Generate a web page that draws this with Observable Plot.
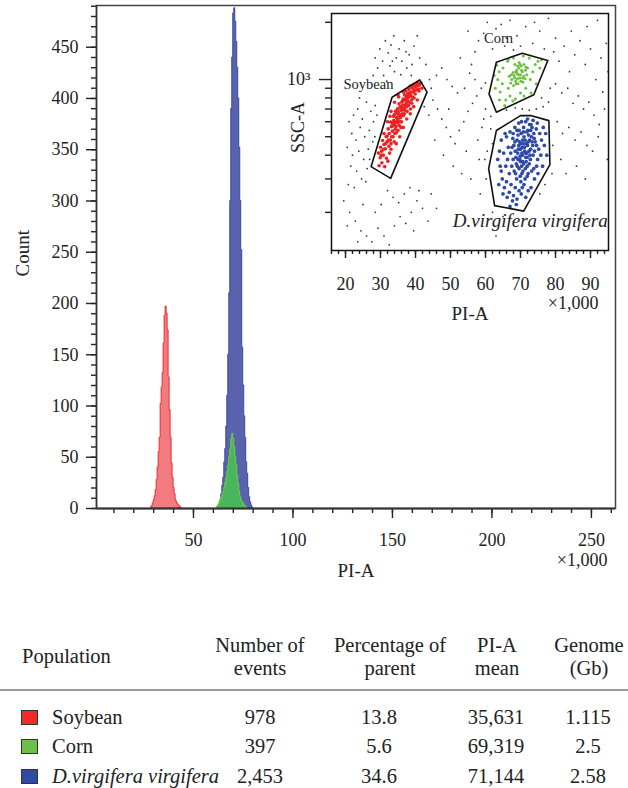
<!DOCTYPE html>
<html>
<head>
<meta charset="utf-8">
<script src="https://cdn.jsdelivr.net/npm/d3@7"></script>
<script src="https://cdn.jsdelivr.net/npm/@observablehq/plot@0.6"></script>
<style>
  html, body { margin: 0; padding: 0; background: #fff; }
  #wrap { position: relative; width: 628px; height: 788px; font-family: "Liberation Serif", "DejaVu Serif", serif; color: #222; }
  #main { position: absolute; left: 0; top: 0; }
  #inset { position: absolute; left: 280px; top: 5px; }
  .cell { position: absolute; white-space: nowrap; font-size: 20.5px; line-height: 23px; }
  .c { transform: translateX(-50%); text-align: center; }
</style>
</head>
<body>
<div id="wrap">
  <div id="main"></div>
  <div id="inset"></div>
  <div id="table"></div>
</div>
<script>
// ---------- Histogram data (PI-A in thousands, bin width 0.5k) ----------
const binWidth = 0.5;
const soybeanStart = 29.0;
const soybeanCounts = [2,5,8,12,18,28,40,55,69,102,118,132,161,188,197,190,174,128,96,69,44,30,20,14,8,6,4,3,2,1];
const cornStart = 62.0;
const cornCounts = [2,4,6,8,10,13,16,20,25,30,36,42,50,58,68,73,68,60,50,42,32,24,17,11,8,6,5,3,2,1];
const dvvStart = 63.0;
const dvvCounts = [3,8,14,22,30,45,58,80,110,150,210,300,390,440,483,488,475,455,430,400,352,300,252,157,120,90,69,45,34,20,11,6,3,1];

// ---------- Inset scatter data: [PI-A (thousands), SSC-A] ----------
const grayPoints = [
 [28.5,1300],[29.8,1450],[30.6,1250],[31.4,1600],[32.2,1380],[33.0,1520],[33.8,1700],[34.5,1300],[35.3,1450],[36.1,1250],[36.8,1600],[37.5,1150],[38.2,1350],[39.0,1200],[29.2,1150],[30.9,1050],[32.7,1180],[34.0,1100],[35.8,1060],[37.3,1400],[38.8,1050],[31.8,980],[27.9,1050],[39.6,1500],[33.4,1250],[40.5,1700],[41.2,1300],
 [21.0,600],[22.3,650],[23.5,700],[24.8,620],[26.0,760],[27.2,680],[28.5,730],[21.8,520],[23.0,480],[24.2,560],[25.5,500],[26.8,540],[28.0,600],[29.0,650],[20.5,440],[22.0,400],[23.8,420],[25.2,380],[26.5,430],[27.8,470],[21.5,350],[23.2,330],[24.6,300],[26.2,340],[26.9,380],[20.8,280],[22.5,270],[25.8,290],[28.4,500],[24.0,800],
 [19.5,230],[21.2,200],[22.8,180],[24.4,160],[26.0,150],[27.5,140],[29.3,165],[31.0,150],[32.5,135],[34.0,170],[35.6,190],[37.2,175],[38.8,200],[40.4,230],[42.0,210],[43.6,180],[30.2,220],[32.0,260],[33.6,240],[35.2,225],[36.8,250],[38.4,270],[41.0,260],[44.5,250],[20.5,170],[23.5,140],[28.5,200],[46.0,210],[39.5,160],[25.0,220],
 [42.5,720],[43.8,650],[45.0,780],[46.3,700],[47.5,620],[48.8,560],[50.0,500],[51.3,460],[52.5,540],[53.8,600],[55.0,680],[56.3,750],[57.5,820],[58.8,900],[60.0,960],[57.0,1000],[55.5,1080],[54.0,900],[52.0,850],[50.5,920],[49.0,1000],[47.5,1150],[46.0,1050],[44.5,900],[43.0,1200],[48.0,400],[50.8,350],[53.2,320],[55.8,300],[58.2,380],[60.5,420],[45.5,480],[52.8,1300],[56.0,1200],[59.0,560],[61.5,640],[44.0,1000],[49.5,700],[54.5,420],[57.8,480],
 [55.0,1800],[58.0,1600],[60.5,2000],[63.0,1850],[65.5,1500],[67.0,2050],[69.0,1700],[71.5,1900],[73.5,1550],[75.5,1800],[78.0,2100],[66.0,1650],[62.0,1450],[57.0,1400],[80.0,1650],[76.8,1450],[70.0,1500],[64.5,1950],[68.0,1430],[74.0,2000],[59.5,1750],
 [79.5,1400],[81.0,1250],[82.5,1500],[84.0,1100],[85.5,1350],[87.0,1600],[88.5,1200],[90.0,1450],[91.5,1000],[93.0,1300],[94.5,1550],[80.0,950],[81.8,850],[83.5,900],[85.0,750],[86.5,820],[88.0,700],[89.5,760],[91.0,650],[92.5,580],[94.0,700],[80.5,600],[82.0,520],[83.8,560],[85.6,480],[87.3,530],[89.0,450],[90.6,420],[92.2,500],[94.8,380],[81.5,380],[83.0,320],[86.0,350],[88.5,300],[79.2,450],[93.5,860],[95.0,1100],[84.5,1800],[89.0,1900],[92.0,2050],
 [66.0,690],[68.5,710],[70.5,700],[72.5,690],[74.5,700],[76.5,720],[78.0,760],[60.0,700],[61.5,550],[62.0,460],[59.8,380],[60.2,300],[62.0,200],[65.0,190],[68.0,180],[58.5,250],[75.5,250],[77.0,280],[79.0,320],[63.0,150],[59.5,620],[76.0,800],[78.5,900]
];
const soybeanPoints = [
 [29.6,352],[30.4,365],[31.2,348],[32.1,372],[29.9,388],[30.8,400],[31.7,385],[32.6,410],[30.3,420],[31.4,432],[32.4,445],[29.4,410],[33.0,430],[31.0,455],[31.9,470],[30.6,478],
 [32.8,480],[33.6,500],[31.9,505],[32.5,520],[33.4,535],[34.2,548],[32.2,550],[33.1,565],[34.0,580],[34.8,595],[32.9,598],[33.8,610],[35.3,575],[34.5,525],[33.0,460],[35.0,620],
 [34.6,630],[35.4,645],[36.2,660],[34.0,655],[35.1,672],[35.9,690],[36.8,705],[34.8,700],[35.6,718],[36.4,735],[37.3,748],[35.3,745],[36.1,762],[37.0,778],[37.8,770],[34.3,680],[36.9,690],[37.5,720],[33.7,640],[35.8,650],[36.6,700],[38.2,760],
 [36.5,790],[37.4,805],[38.3,820],[39.1,810],[36.9,830],[37.8,845],[38.7,860],[39.6,872],[37.2,870],[38.1,888],[39.0,905],[40.0,918],[38.5,925],[39.4,940],[40.3,955],[41.1,935],[40.8,890],[39.9,840],[41.5,960],[37.6,815],[38.9,780],[40.6,965],
 [30.0,440],[31.6,500],[33.9,470],[36.0,600],[38.6,700],[41.8,900],[35.2,810],[32.7,640],
 [34.0,600],[34.9,610],[35.7,630],[36.5,645],[33.5,570],[34.4,565],[35.6,600],[36.8,660],[37.6,680],[38.0,730],[37.1,730],[36.0,720],[35.0,700],[37.9,800],[38.6,830],[39.4,860],[40.2,880],[36.3,770],[37.2,790],[38.0,850],[39.3,900],[40.5,930],[34.1,520],[35.0,540],[35.8,560],[33.2,500],[32.3,480],[31.5,460],[30.9,430],[30.2,400],[33.3,590],[34.9,660],[36.0,690],[38.9,750],[39.6,800],[41.0,870],
 [31.0,520],[32.0,600],[33.0,680],[34.0,760],[35.0,830],[36.5,860],[36.5,560],[37.5,620],[38.5,660],[39.5,720],[40.5,780],[35.5,500],[34.5,460]
];
const cornPoints = [
 [68.2,1050],[69.0,1080],[69.8,1020],[70.5,1100],[68.6,980],[69.5,1150],[70.9,1040],[67.5,1000],[68.9,1120],[70.2,1180],[71.4,1120],[67.9,1090],[69.3,950],[70.7,970],[68.0,930],[71.0,1200],[66.8,1040],[69.6,1230],[72.0,1150],[67.2,960],[68.4,1200],[70.0,1060],[71.8,1060],[66.5,900],[69.1,1010],
 [63.5,1000],[64.2,860],[65.0,1150],[65.8,780],[66.3,1250],[64.8,950],[63.9,1100],[62.8,900],[67.0,820],[68.5,790],[70.0,850],[71.5,900],[72.8,1000],[73.5,1100],[74.2,1200],[75.0,1250],[72.5,1300],[70.8,1330],[68.0,1300],[66.5,1280],[73.0,850],[74.5,950],[76.0,1270],[65.5,730],[64.0,780],[71.0,820],[62.5,1050],[63.2,1190],[67.8,770],[75.5,1150],
 [68.7,1100],[69.4,1060],[70.3,1120],[69.9,1200],[68.3,1020],[67.4,1060],[70.6,1020],[71.3,1010],[69.2,1180],[68.8,950],[70.1,980],[71.6,1160]
];
const dvvPoints = [
 [70.5,400],[71.2,420],[69.8,380],[72.0,450],[70.0,430],[71.6,370],[69.2,410],[72.6,480],[70.8,460],[68.8,360],[71.9,390],[70.3,350],[69.5,450],[72.4,420],[73.1,500],[71.0,500],[68.5,420],[67.9,380],[70.7,330],[69.9,310],[71.4,340],[72.8,380],[73.5,450],[68.2,330],[69.0,480],[70.2,520],[71.8,530],[72.9,540],[67.5,350],[68.9,300],[70.1,290],[71.3,300],[72.2,320],[73.6,400],[74.2,470],[67.2,410],[66.8,320],[69.6,340],[70.6,370],[71.7,460],[68.1,450],[69.3,380],[72.5,360],[73.8,520],[74.5,550],[70.9,560],[69.6,540],[67.8,490],[66.5,440],[74.0,420],
 [66.0,290],[67.3,280],[68.5,270],[69.6,260],[66.8,255],[68.0,245],[65.4,270],[67.7,230],[69.0,235],[64.8,300],[66.2,240],[68.8,220],[70.2,250],[65.0,250],[63.8,280],[67.0,215],[70.5,270],[64.5,330],[65.8,350],[66.3,380],
 [71.5,600],[72.6,580],[73.6,610],[74.8,590],[70.3,600],[75.5,520],[76.0,480],[76.5,560],[75.2,430],[74.9,380],[75.8,400],[76.8,450],[77.2,520],[73.3,560],[72.0,620],[69.5,590],[68.4,560],[67.0,530],[66.0,500],[64.5,480],[64.0,420],[63.5,380],[64.2,350],[65.2,410],[65.6,520],[77.5,400],[76.3,350],[75.0,320],[74.0,300],[73.0,270],[72.2,260],[71.5,240],[73.8,340],[74.6,350],[71.0,280],
 [70.4,410],[71.1,440],[69.9,395],[71.8,410],[70.6,480],[69.4,430],[72.2,470],[71.5,390],[70.9,360],[70.0,370],[72.9,430],[73.3,470],[68.7,390],[69.1,350],[71.9,350],[72.7,400],[70.5,440],[71.3,480],[69.7,470],[68.4,470],[73.9,490],[72.3,510],[70.8,530],[69.3,510],[68.6,320],[70.4,320],[71.9,310],[73.2,330],[67.6,440],[74.6,450],[70.1,460],[71.4,410],[72.1,540],[69.0,540],[73.0,580],[67.9,520]
];

// Gate polygons [PI-A (thousands), SSC-A]
const soybeanGate = [[27.3,348],[33.3,807],[41.2,996],[43.3,858],[32.9,302]];
const cornGate = [[63.1,1233],[70.5,1375],[77.8,1259],[73.8,831],[63.1,673],[61.0,841]];
const dvvGate = [[63.1,539],[70.0,646],[72.9,646],[78.1,608],[78.4,357],[70.9,203],[62.6,217],[60.9,340]];

// Gate labels
const soyLabel = [{name: "Soybean", x: 33.7, y: 941}];
const cornLabel = [{name: "Corn", x: 63.7, y: 1644}];
const dvvLabel = [{name: "D.virgifera virgifera", x: 94.9, y: 181}];

// Table data
const populations = ["Soybean", "Corn", "D.virgifera virgifera"];
const popItalic = [false, false, true];
const popColors = ["#ee2a2a", "#6cc04a", "#2f4aa3"];
const nEvents = ["978", "397", "2,453"];
const pctParent = ["13.8", "5.6", "34.6"];
const piMean = ["35,631", "69,319", "71,144"];
const genomeGb = ["1.115", "2.5", "2.58"];

// ---------- build histogram series ----------
function series(start, counts) {
  const rows = counts.map((c, i) => ({x: start + i * binWidth, y: c}));
  rows.push({x: start + counts.length * binWidth, y: 0});
  return rows;
}
const soySeries = series(soybeanStart, soybeanCounts);
const cornSeries = series(cornStart, cornCounts);
const dvvSeries = series(dvvStart, dvvCounts);

const font = "Liberation Serif";

const main = Plot.plot({
  width: 628, height: 600,
  marginLeft: 96, marginRight: 13, marginTop: 5, marginBottom: 92,
  style: {fontFamily: font, fontSize: "18px", color: "#222", background: "transparent", overflow: "visible"},
  x: {domain: [1.26, 262.1], label: null},
  y: {domain: [0, 490.7], label: null},
  marks: [
    Plot.areaY(dvvSeries, {x: "x", y: "y", curve: "step-after", fill: "#5862ad", stroke: "#3a4aa0", strokeWidth: 1}),
    Plot.areaY(cornSeries, {x: "x", y: "y", curve: "step-after", fill: "#47b65c", stroke: "#7acc3a", strokeWidth: 1}),
    Plot.areaY(soySeries, {x: "x", y: "y", curve: "step-after", fill: "#f27b80", stroke: "#ee2a2a", strokeWidth: 1}),
    Plot.axisY({ticks: d3.range(0, 491, 10), tickSize: 5, tickFormat: () => "", label: null, strokeWidth: 1.4}),
    Plot.axisY({ticks: d3.range(0, 451, 50), tickSize: 10, tickPadding: 8, label: null, strokeWidth: 1.4}),
    Plot.axisX({ticks: d3.range(10, 261, 10), tickSize: 5, tickFormat: () => "", label: null, strokeWidth: 1.4}),
    Plot.axisX({ticks: d3.range(50, 251, 50), tickSize: 10, tickPadding: 15, label: null, strokeWidth: 1.4}),
    Plot.frame({stroke: "#444", strokeWidth: 1.5}),
    Plot.ruleY([0], {stroke: "#333", strokeWidth: 2}),
    Plot.ruleX([1.26], {stroke: "#333", strokeWidth: 1.5}),
    Plot.text(["PI-A"], {frameAnchor: "bottom", dy: 68, fontSize: 19, fill: "#222"}),
    Plot.text(["×1,000"], {frameAnchor: "bottom-right", textAnchor: "end", dx: -8, dy: 57, fontSize: 18, fill: "#222"}),
    Plot.text(["Count"], {frameAnchor: "left", rotate: -90, dx: -74, dy: 19.5, fontSize: 19, fill: "#222"})
  ]
});
document.getElementById("main").appendChild(main);

const gateRows = [
  ...soybeanGate.map(p => ({g: "Soybean", x: p[0], y: p[1]})),
  ...cornGate.map(p => ({g: "Corn", x: p[0], y: p[1]})),
  ...dvvGate.map(p => ({g: "dvv", x: p[0], y: p[1]}))
];

const inset = Plot.plot({
  width: 335, height: 315,
  marginLeft: 51, marginRight: 7, marginTop: 8, marginBottom: 70,
  style: {fontFamily: font, fontSize: "18px", color: "#222", background: "transparent", overflow: "visible"},
  x: {domain: [16, 95.14], label: null},
  y: {type: "log", domain: [126, 2226], label: null},
  marks: [
    Plot.frame({fill: "white"}),
    Plot.dot(grayPoints, {x: d => d[0], y: d => d[1], r: 0.9, fill: "#3a3a3a", stroke: null}),
    Plot.dot(soybeanPoints, {x: d => d[0], y: d => d[1], r: 1.8, fill: "#ee2020", stroke: null}),
    Plot.dot(cornPoints, {x: d => d[0], y: d => d[1], r: 1.5, fill: "#6cc040", stroke: null}),
    Plot.dot(dvvPoints, {x: d => d[0], y: d => d[1], r: 1.85, fill: "#2e4aa6", stroke: null}),
    Plot.line(gateRows, {x: "x", y: "y", z: "g", curve: "linear-closed", stroke: "#111", strokeWidth: 1.6}),
    Plot.text(soyLabel, {x: "x", y: "y", text: "name", textAnchor: "end", fontSize: 14.5, fill: "#222"}),
    Plot.text(cornLabel, {x: "x", y: "y", text: "name", textAnchor: "middle", fontSize: 14.5, fill: "#222"}),
    Plot.text(dvvLabel, {x: "x", y: "y", text: "name", textAnchor: "end", fontSize: 19, fontStyle: "italic", fill: "#222"}),
    Plot.axisX({ticks: d3.range(16, 95.2, 2), tickSize: 4, tickFormat: () => "", label: null, strokeWidth: 1.4}),
    Plot.axisX({ticks: d3.range(20, 91, 10), tickSize: 8, tickPadding: 19, label: null, strokeWidth: 1.4}),
    Plot.axisY({ticks: [200,300,400,500,600,700,800,900,2000], tickSize: 6, tickFormat: () => "", label: null, strokeWidth: 1.4}),
    Plot.axisY({ticks: [1000], tickSize: 12, tickPadding: 9, tickFormat: () => "10³", label: null, strokeWidth: 1.4}),
    Plot.frame({stroke: "#111", strokeWidth: 1.5}),
    Plot.text(["PI-A"], {frameAnchor: "bottom", dy: 69, fontSize: 19, fill: "#222"}),
    Plot.text(["×1,000"], {frameAnchor: "bottom-right", textAnchor: "end", dx: -10, dy: 58, fontSize: 18, fill: "#222"}),
    Plot.text(["SSC-A"], {frameAnchor: "left", rotate: -90, dx: -33, dy: 21, fontSize: 18, fill: "#222"})
  ]
});
document.getElementById("inset").appendChild(inset);

// ---------- table ----------
const table = document.getElementById("table");
function cell(text, left, centerY, opts = {}) {
  const d = document.createElement("div");
  d.className = "cell" + (opts.center ? " c" : "");
  d.textContent = text;
  d.style.left = left + "px";
  d.style.top = (centerY - 11.5) + "px";
  if (opts.italic) d.style.fontStyle = "italic";
  table.appendChild(d);
}
cell("Population", 22, 656);
const headers = [["Number of", "events", 260], ["Percentage of", "parent", 390], ["PI-A", "mean", 497], ["Genome", "(Gb)", 589]];
headers.forEach(h => { cell(h[0], h[2], 645, {center: true}); cell(h[1], h[2], 668, {center: true}); });
const sep = document.createElement("div");
Object.assign(sep.style, {position: "absolute", left: "0px", top: "689px", width: "628px", height: "2px", background: "#9a9a9a"});
table.appendChild(sep);
const rowY = [717, 746, 776];
populations.forEach((p, i) => {
  const sq = document.createElement("div");
  Object.assign(sq.style, {position: "absolute", left: "21px", top: (rowY[i] - 7) + "px", width: "15px", height: "13px",
    background: popColors[i], border: "1.5px solid #333"});
  table.appendChild(sq);
  cell(p, 52, rowY[i], {italic: popItalic[i]});
  cell(nEvents[i], 260, rowY[i], {center: true});
  cell(pctParent[i], 379, rowY[i], {center: true});
  cell(piMean[i], 496, rowY[i], {center: true});
  cell(genomeGb[i], 588, rowY[i], {center: true});
});
</script>
</body>
</html>
